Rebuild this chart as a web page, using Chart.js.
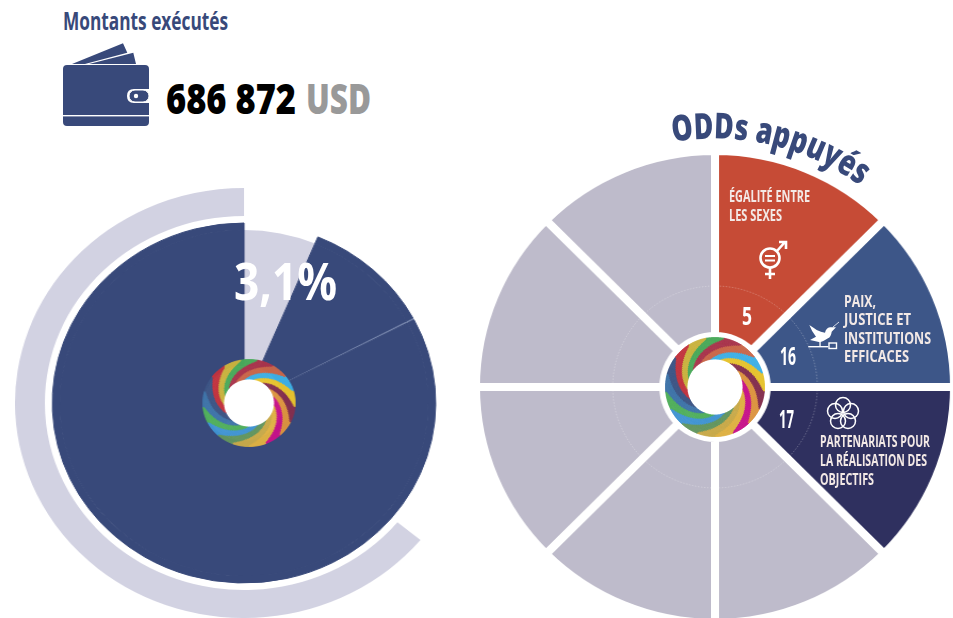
<!DOCTYPE html>
<html lang="fr">
<head>
<meta charset="utf-8">
<title>Montants exécutés</title>
<script src="https://cdn.jsdelivr.net/npm/chart.js@4/dist/chart.umd.min.js"></script>
<style>
html, body { margin: 0; padding: 0; background: #fff; }
#page { position: relative; width: 953px; height: 618px; overflow: hidden; font-family: "Open Sans", sans-serif; font-weight: 700; }
canvas { position: absolute; display: block; }
.t { position: absolute; white-space: nowrap; line-height: 1; transform-origin: left center; }
.lbl { color: #f3e9e6; font-size: 15.4px; }
.num { color: #fff; font-size: 25px; }
svg { position: absolute; overflow: visible; }
</style>
</head>
<body>
<div id="page">
  <canvas id="leftPie" width="430" height="430" style="left:29px;top:188px;transform:scaleX(1.065)"></canvas>
  <canvas id="rightPie" width="480" height="480" style="left:474.5px;top:146.5px;transform:scaleX(1.013)"></canvas>
  <canvas id="leftSwirl" width="88" height="88" style="left:204.5px;top:359px;transform:scaleX(1.06)"></canvas>
  <canvas id="rightSwirl" width="100" height="100" style="left:665px;top:337px"></canvas>

  <div class="t" data-w="165" style="left:63px;top:8px;font-size:25px;color:#38497a">Montants exécutés</div>

  <!-- portefeuille -->
  <svg style="left:62px;top:43px" width="88" height="84" viewBox="0 0 88 84">
    <path d="M10 21 L61 0.3 L65.3 9.7 L23 21Z M27 21 L71.3 9.7 L74 21Z" fill="#38497a"/>
    <path d="M5 22 H83 Q87 22 87 26 V46 H72 Q65 46 65 53 Q65 60 72 60 H87 V79 Q87 83 83 83 H5 Q1 83 1 79 V26 Q1 22 5 22Z" fill="#38497a"/>
    <rect x="1" y="72" width="86" height="1.4" fill="#fff"/>
    <rect x="67" y="47" width="20" height="12" rx="6" fill="#38497a" stroke="#fff" stroke-width="1"/>
    <circle cx="74" cy="53" r="2.2" fill="#fff"/>
  </svg>

  <div class="t" data-w="130" style="left:166px;top:76px;font-size:43px;font-weight:800;color:#000">686 872</div>
  <div class="t" data-w="65" style="left:306px;top:76px;font-size:43px;font-weight:800;color:#999">USD</div>
  <div class="t" data-w="103" style="left:234px;top:254px;font-size:52px;color:#fff">3,1%</div>

  <!-- titre courbe -->
  <svg style="left:0;top:0" width="953" height="618">
    <defs><path id="titleArc" d="M 673.1 142 A 248 248 0 0 1 889.9 211.1"/></defs>
    <text font-size="36" font-weight="800" fill="#38497a"><textPath href="#titleArc" textLength="197" lengthAdjust="spacingAndGlyphs">ODDs appuyés</textPath></text>
  </svg>

  <div class="t lbl" data-w="81" style="left:729px;top:189px">ÉGALITÉ ENTRE</div>
  <div class="t lbl" data-w="53" style="left:729px;top:208px">LES SEXES</div>
  <div class="t num" data-w="10" style="left:742px;top:303px">5</div>

  <!-- symbole égalité -->
  <svg style="left:755px;top:240px" width="34" height="40" viewBox="0 0 34 40" fill="none" stroke="#fff" stroke-width="2.6">
    <circle cx="15" cy="18" r="9.5"/>
    <path d="M10 16 H20 M10 20.5 H20" stroke-width="2"/>
    <path d="M15 27.5 V39 M10 34 H20"/>
    <path d="M22 11 L30 2 M24 2 H31 V9"/>
  </svg>

  <div class="t lbl" data-w="32" style="left:844px;top:294px">PAIX,</div>
  <div class="t lbl" data-w="67" style="left:844px;top:312px">JUSTICE ET</div>
  <div class="t lbl" data-w="87" style="left:844px;top:331px">INSTITUTIONS</div>
  <div class="t lbl" data-w="65" style="left:844px;top:349px">EFFICACES</div>
  <div class="t num" data-w="16" style="left:780px;top:343px">16</div>

  <!-- colombe -->
  <svg style="left:806px;top:320px" width="36" height="32" viewBox="0 0 36 32" fill="#fff">
    <path d="M3.3 5 Q8 8 10.7 10 Q15 12 19 12.7 Q20 8 24 7.3 L30 7.3 L25.7 11.7 Q25 17 22 18.3 Q18 21 14 22.3 L4 20 L10 16.7 Q6 12 3.3 5Z"/>
    <path d="M27 7 L33 2" stroke="#fff" stroke-width="0.8" fill="none"/>
    <rect x="2.3" y="26" width="20" height="1.4"/>
    <rect x="23" y="23" width="7.5" height="5.5" fill="none" stroke="#fff" stroke-width="1.4"/>
    <rect x="13.4" y="22" width="1.3" height="4"/>
  </svg>

  <div class="t lbl" data-w="110" style="left:820px;top:434px">PARTENARIATS POUR</div>
  <div class="t lbl" data-w="107" style="left:820px;top:453px">LA RÉALISATION DES</div>
  <div class="t lbl" data-w="54" style="left:820px;top:472px">OBJECTIFS</div>
  <div class="t num" data-w="15" style="left:779px;top:406px">17</div>

  <!-- fleur -->
  <svg style="left:826px;top:396px" width="34" height="34" viewBox="0 0 34 34" fill="none" stroke="#fff" stroke-width="1.5">
    <circle cx="17" cy="9" r="7.5"/>
    <circle cx="25" cy="15" r="7.5"/>
    <circle cx="22" cy="25" r="7.5"/>
    <circle cx="12" cy="25" r="7.5"/>
    <circle cx="9" cy="15" r="7.5"/>
  </svg>
</div>

<script>
/* ============================================
   DATA
============================================ */

// part des angles, en %
const montantLabels = ["Exécuté", "Reste A", "Séparation", "Reste B"];
const montantValues = [6.3, 10.9, 0.15, 82.65];
const anneauValues = [36, 64];

const oddLabels = ["ODD 5", "ODD 16", "ODD 17", "Autre 1", "Autre 2", "Autre 3", "Autre 4", "Autre 5"];
const oddValues = [1, 1, 1, 1, 1, 1, 1, 1];

const swirlValues = [1, 1, 1, 1, 1, 1, 1, 1, 1, 1, 1, 1, 1, 1, 1, 1, 1];

/* ============================================
   COLORS
============================================ */

const NAVY = "#38497a";
const PALE = "#d2d2e2";
const HAIRLINE = "#7484ab";
const oddColors = ["#c64b36", "#3d5688", "#2f305f", "#bebbcb", "#bebbcb", "#bebbcb", "#bebbcb", "#bebbcb"];
const swirlColors = [
    "#4aa95a", "#a8354c", "#c9674a", "#3fb0e4", "#e6c32f", "#84304f",
    "#dc9440", "#c6148a", "#deb144", "#c8a94a", "#63965f", "#4194d2",
    "#50ae5c", "#3f74a8", "#3e5585", "#c2343f", "#c9b23f"
];

const noAnim = { animation: false, responsive: false, events: [] };
const noPlugins = { legend: { display: false }, tooltip: { enabled: false } };

/* ============================================
   FIT TEXT WIDTHS (condensed look)
============================================ */

document.querySelectorAll(".t[data-w]").forEach(el => {
    const natural = el.getBoundingClientRect().width;
    el.style.transform = "scaleX(" + (Number(el.dataset.w) / natural) + ")";
});

/* ============================================
   LEFT PIE (montants)
============================================ */

new Chart(document.getElementById("leftPie"), {
    type: "doughnut",
    data: {
        labels: montantLabels,
        datasets: [
            // anneau extérieur pale, ouvert en haut à droite
            { data: anneauValues, backgroundColor: ["rgba(0,0,0,0)", PALE], borderWidth: 0, weight: 28 },
            // espace blanc
            { data: anneauValues, backgroundColor: "rgba(0,0,0,0)", borderWidth: 0, weight: 7 },
            // bord du disque : le secteur exécuté est un peu plus court
            {
                data: montantValues,
                backgroundColor: ["rgba(0,0,0,0)", NAVY, HAIRLINE, NAVY],
                borderColor: ["rgba(0,0,0,0)", NAVY, HAIRLINE, NAVY],
                borderWidth: [0, 1, 0, 1],
                weight: 7
            },
            {
                data: montantValues,
                backgroundColor: [PALE, NAVY, HAIRLINE, NAVY],
                borderColor: [PALE, NAVY, HAIRLINE, NAVY],
                borderWidth: [0, 1, 0, 1],
                weight: 135
            }
        ]
    },
    options: { ...noAnim, cutout: 38, plugins: noPlugins }
});

/* ============================================
   RIGHT PIE (ODD)
============================================ */

const dashedCircle = {
    id: "dashedCircle",
    afterDatasetsDraw(chart) {
        const arc = chart.getDatasetMeta(0).data[0];
        const ctx = chart.ctx;
        ctx.save();
        ctx.beginPath();
        ctx.setLineDash([1.5, 1.5]);
        ctx.lineWidth = 0.7;
        ctx.strokeStyle = "rgba(255,255,255,0.4)";
        ctx.arc(arc.x, arc.y, 101, 0, Math.PI * 2);
        ctx.stroke();
        ctx.restore();
    }
};

new Chart(document.getElementById("rightPie"), {
    type: "doughnut",
    data: {
        labels: oddLabels,
        datasets: [{ data: oddValues, backgroundColor: oddColors, borderColor: "#fff", borderWidth: 8 }]
    },
    options: { ...noAnim, cutout: 51, plugins: noPlugins },
    plugins: [dashedCircle]
});

/* ============================================
   CENTER SWIRL
   thin rings, each one turned a bit further
============================================ */

function makeSwirl(id, holePx) {
    const datasets = [];
    const rings = 24;
    for (let i = 0; i < rings; i++) {
        datasets.push({
            data: swirlValues,
            backgroundColor: swirlColors,
            borderColor: swirlColors,
            borderWidth: 0.8,
            rotation: -10.6 - 62 * Math.pow(i / (rings - 1), 1.2)
        });
    }
    new Chart(document.getElementById(id), {
        type: "doughnut",
        data: { datasets: datasets },
        options: { ...noAnim, cutout: holePx, plugins: noPlugins }
    });
}

makeSwirl("leftSwirl", 24);
makeSwirl("rightSwirl", 28);
</script>
</body>
</html>
